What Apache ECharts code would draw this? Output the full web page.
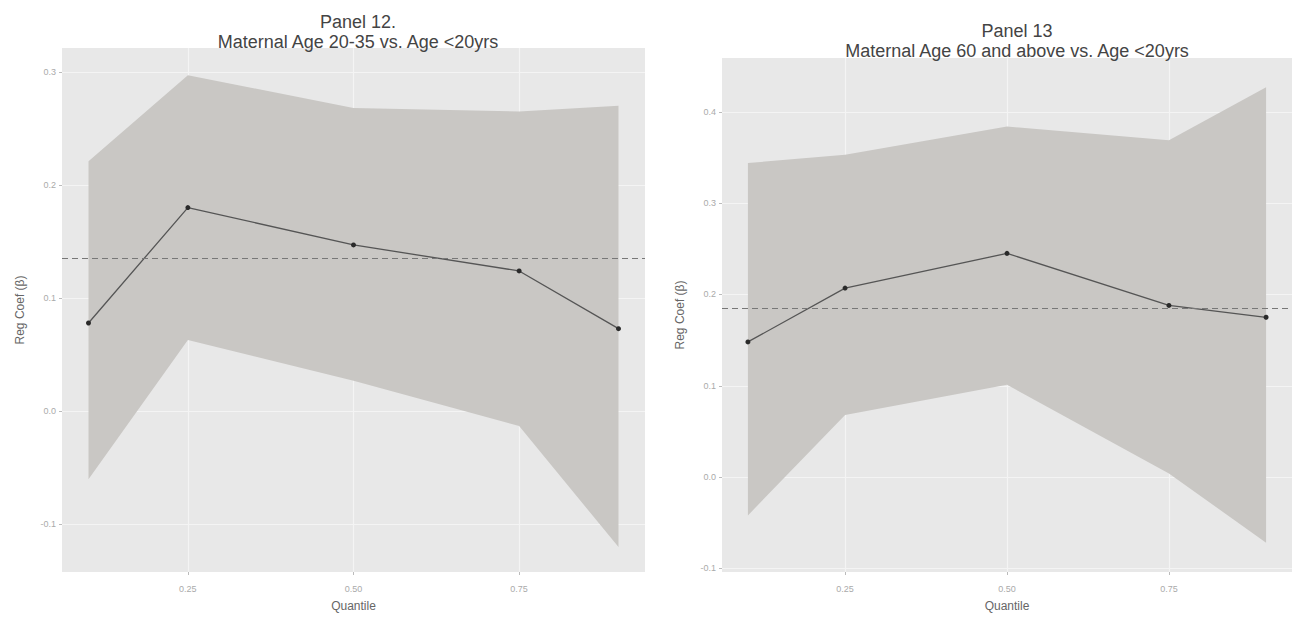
<!DOCTYPE html>
<html>
<head>
<meta charset="utf-8">
<script src="https://cdn.jsdelivr.net/npm/echarts@6/dist/echarts.min.js"></script>
<style>
  html, body { margin: 0; padding: 0; background: #fff; }
  #main { width: 1294px; height: 617px; }
</style>
</head>
<body>
<div id="main"></div>
<script>
// quantiles used for both panels
const quantiles = [0.1, 0.25, 0.5, 0.75, 0.9];
const xTicks = [0.25, 0.5, 0.75];

// Panel 12: Maternal Age 20-35 vs. Age <20yrs
const coef12 = [0.078, 0.180, 0.147, 0.124, 0.073];
const lower12 = [-0.060, 0.063, 0.027, -0.013, -0.120];
const upper12 = [0.221, 0.297, 0.268, 0.265, 0.270];
const ref12 = 0.135;
const yTicks12 = [-0.1, 0, 0.1, 0.2, 0.3];

// Panel 13: Maternal Age 60 and above vs. Age <20yrs
const coef13 = [0.148, 0.207, 0.245, 0.188, 0.175];
const lower13 = [-0.042, 0.068, 0.101, 0.004, -0.072];
const upper13 = [0.344, 0.353, 0.384, 0.369, 0.427];
const ref13 = 0.185;
const yTicks13 = [-0.1, 0, 0.1, 0.2, 0.3, 0.4];

const chartDom = document.getElementById('main');
const myChart = echarts.init(chartDom, null, { renderer: 'svg' });

const pairs = (ys) => quantiles.map((q, i) => [q, ys[i]]);

function xAxisFor(idx) {
  return {
    type: 'value',
    gridIndex: idx,
    min: 0.06,
    max: 0.94,
    name: 'Quantile',
    nameLocation: 'middle',
    nameGap: 28,
    nameTextStyle: { color: '#666', fontSize: 12, fontFamily: 'Liberation Sans' },
    axisLine: { show: false, onZero: false },
    axisTick: { show: true, length: 3, lineStyle: { color: '#bbb' }, customValues: xTicks },
    axisLabel: {
      customValues: xTicks,
      color: '#aaa', fontSize: 9, margin: 12,
      formatter: (v) => v.toFixed(2)
    },
    splitLine: { show: true, lineStyle: { color: '#f4f4f4', width: 1.2 } }
  };
}

function yAxisFor(idx, min, max, ticks) {
  return {
    type: 'value',
    gridIndex: idx,
    min: min,
    max: max,
    name: 'Reg Coef (β)',
    nameLocation: 'middle',
    nameGap: 36,
    nameTextStyle: { color: '#666', fontSize: 12, fontFamily: 'Liberation Sans' },
    axisLine: { show: false, onZero: false },
    axisTick: { show: true, length: 3, lineStyle: { color: '#bbb' }, customValues: ticks },
    axisLabel: {
      customValues: ticks,
      color: '#aaa', fontSize: 9, margin: 6,
      formatter: (v) => v.toFixed(1)
    },
    splitLine: { show: true, lineStyle: { color: '#f4f4f4', width: 1.2 } }
  };
}

// confidence band drawn as one polygon through the axis scales
function bandRender(lo, hi) {
  return function (params, api) {
    if (params.dataIndex !== 0) return null;
    const top = quantiles.map((q, i) => api.coord([q, hi[i]]));
    const bottom = quantiles.map((q, i) => api.coord([q, lo[i]])).reverse();
    return {
      type: 'polygon',
      shape: { points: top.concat(bottom) },
      style: { fill: '#c9c7c4', stroke: 'none' },
      silent: true
    };
  };
}

function panelSeries(idx, coef, lo, hi, ref) {
  return [
    {
      type: 'custom',
      xAxisIndex: idx, yAxisIndex: idx,
      data: quantiles.map((q, i) => [q, lo[i], hi[i]]),
      encode: { x: 0, y: [1, 2] },
      renderItem: bandRender(lo, hi),
      clip: true,
      z: 1
    },
    {
      type: 'line',
      xAxisIndex: idx, yAxisIndex: idx,
      data: pairs(coef),
      symbol: 'circle',
      symbolSize: 5,
      itemStyle: { color: '#2a2a2a' },
      lineStyle: { color: '#555', width: 1.3 },
      z: 4,
      markLine: {
        silent: true,
        symbol: 'none',
        precision: 4,
        label: { show: false },
        lineStyle: { color: '#777', type: [6, 4], width: 1.1 },
        data: [{ yAxis: ref }]
      }
    }
  ];
}

const option = {
  animation: false,
  textStyle: { fontFamily: 'Liberation Sans' },
  title: [
    {
      text: 'Panel 12.\nMaternal Age 20-35 vs. Age <20yrs',
      left: 353, top: 7, textAlign: 'center',
      textStyle: { color: '#444', fontSize: 18, fontWeight: 'normal', lineHeight: 20 }
    },
    {
      text: 'Panel 13\nMaternal Age 60 and above vs. Age <20yrs',
      left: 1012, top: 16, textAlign: 'center',
      textStyle: { color: '#444', fontSize: 18, fontWeight: 'normal', lineHeight: 20 }
    }
  ],
  grid: [
    { left: 62, top: 48, width: 583, height: 524, show: true, backgroundColor: '#e8e8e8', borderWidth: 0 },
    { left: 722, top: 58, width: 570, height: 514, show: true, backgroundColor: '#e8e8e8', borderWidth: 0 }
  ],
  xAxis: [xAxisFor(0), xAxisFor(1)],
  yAxis: [
    yAxisFor(0, -0.142, 0.321, yTicks12),
    yAxisFor(1, -0.104, 0.459, yTicks13)
  ],
  series: [
    ...panelSeries(0, coef12, lower12, upper12, ref12),
    ...panelSeries(1, coef13, lower13, upper13, ref13)
  ]
};

myChart.setOption(option);
</script>
</body>
</html>
